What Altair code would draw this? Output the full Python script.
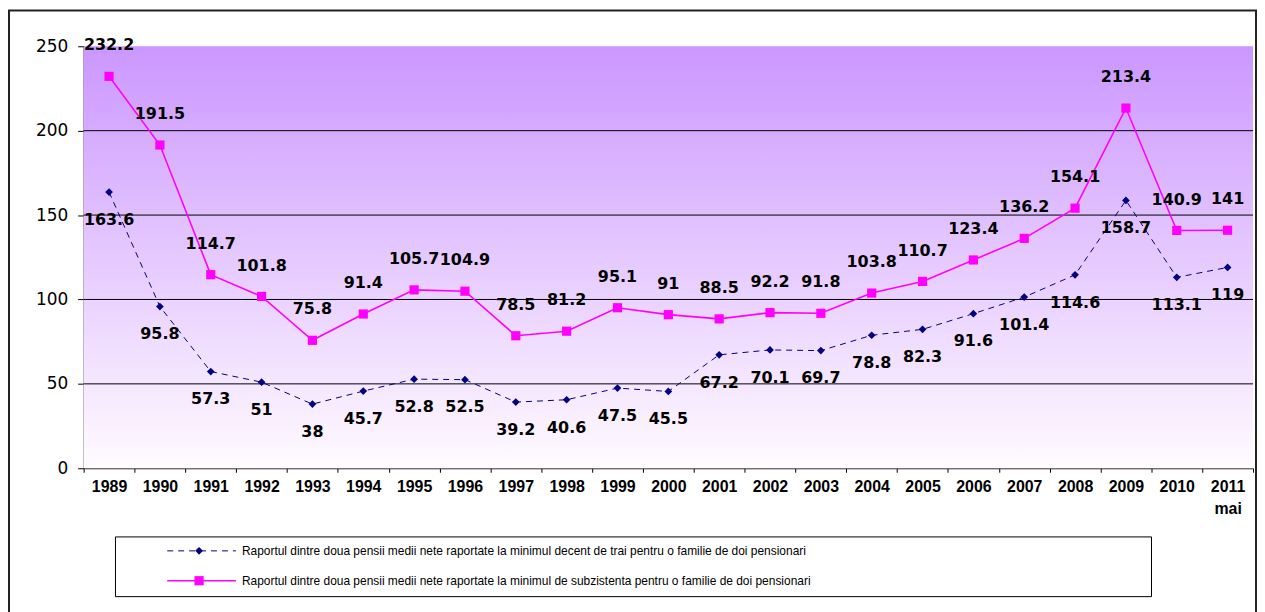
import altair as alt
import pandas as pd

years = ["1989", "1990", "1991", "1992", "1993", "1994", "1995", "1996", "1997", "1998",
         "1999", "2000", "2001", "2002", "2003", "2004", "2005", "2006", "2007", "2008",
         "2009", "2010", "2011\nmai"]
decent = [163.6, 95.8, 57.3, 51, 38, 45.7, 52.8, 52.5, 39.2, 40.6, 47.5, 45.5, 67.2,
          70.1, 69.7, 78.8, 82.3, 91.6, 101.4, 114.6, 158.7, 113.1, 119]
subsist = [232.2, 191.5, 114.7, 101.8, 75.8, 91.4, 105.7, 104.9, 78.5, 81.2, 95.1, 91,
           88.5, 92.2, 91.8, 103.8, 110.7, 123.4, 136.2, 154.1, 213.4, 140.9, 141]
series_names = [
    "Raportul dintre doua pensii medii nete raportate la minimul decent de trai pentru o familie de doi pensionari",
    "Raportul dintre doua pensii medii nete raportate la minimul de subzistenta pentru o familie de doi pensionari",
]
y_ticks = [0, 50, 100, 150, 200, 250]
grid_values = [50, 100, 150, 200]

NAVY = "#000080"
MAGENTA = "#FF00FF"
W, H = 1175, 424

df = pd.DataFrame({"year": years, "decent": decent, "subsist": subsist})
df["decent_lbl"] = [f"{v:g}" for v in decent]
df["subsist_lbl"] = [f"{v:g}" for v in subsist]
one = pd.DataFrame({"k": [0]})

x_enc = alt.X(
    "year:N", sort=years, title=None,
    scale=alt.Scale(type="band", paddingInner=0, paddingOuter=0),
    axis=alt.Axis(labelAngle=0, labelFont="Liberation Sans", labelFontWeight="bold",
                  labelFontSize=16, labelColor="black", labelPadding=6,
                  labelLineHeight=22, labelExpr="split(datum.label, '\\n')",
                  tickBand="extent", tickSize=4, tickColor="black",
                  domainColor="black", grid=False),
)
y_scale = alt.Scale(domain=[0, 250], nice=False)
y_axis = alt.Axis(values=y_ticks, labelFont="DejaVu Sans", labelFontSize=17,
                  labelColor="black", labelPadding=10, tickSize=6, tickColor="black",
                  domainColor="black", grid=False, title=None)

bg = alt.Chart(one).mark_rect(
    fill=alt.LinearGradient(
        gradient="linear",
        stops=[alt.GradientStop(color="#CB97FF", offset=0),
               alt.GradientStop(color="#FFFBFF", offset=1)],
        x1=0, x2=0, y1=0, y2=1,
    )
).encode(x=alt.value(0), x2=alt.value(W), y=alt.value(0), y2=alt.value(H))

grid = alt.Chart(pd.DataFrame({"g": grid_values})).mark_rule(
    color="black", strokeWidth=1
).encode(y=alt.Y("g:Q", scale=y_scale, axis=y_axis))

base = alt.Chart(df).encode(x=x_enc)

navy_line = base.mark_line(color=NAVY, strokeWidth=1, strokeDash=[6, 5]).encode(
    y=alt.Y("decent:Q", scale=y_scale, axis=y_axis))
navy_pts = base.mark_point(shape="diamond", filled=True, color=NAVY, size=60, opacity=1).encode(
    y=alt.Y("decent:Q", scale=y_scale, axis=y_axis))
mag_line = base.mark_line(color=MAGENTA, strokeWidth=1.6).encode(
    y=alt.Y("subsist:Q", scale=y_scale, axis=y_axis))
mag_pts = base.mark_point(shape="square", filled=True, color=MAGENTA, size=85, opacity=1).encode(
    y=alt.Y("subsist:Q", scale=y_scale, axis=y_axis))

navy_lbl = base.mark_text(font="DejaVu Sans", fontWeight="bold", fontSize=16,
                          color="black", dy=28).encode(
    y=alt.Y("decent:Q", scale=y_scale, axis=y_axis), text="decent_lbl:N")
mag_lbl = base.mark_text(font="DejaVu Sans", fontWeight="bold", fontSize=16,
                         color="black", dy=-31).encode(
    y=alt.Y("subsist:Q", scale=y_scale, axis=y_axis), text="subsist_lbl:N")

# legend
LX0, LX1, LY0, LY1 = 32, 1073, 493, 553
R1, R2 = 507, 537
leg_box = alt.Chart(one).mark_rect(fill="white", stroke="black", strokeWidth=1).encode(
    x=alt.value(LX0), x2=alt.value(LX1), y=alt.value(LY0), y2=alt.value(LY1))
leg_line1 = alt.Chart(one).mark_rule(color=NAVY, strokeWidth=1, strokeDash=[6, 5]).encode(
    x=alt.value(84), x2=alt.value(153), y=alt.value(R1))
leg_pt1 = alt.Chart(one).mark_point(shape="diamond", filled=True, color=NAVY, size=60, opacity=1).encode(
    x=alt.value(116), y=alt.value(R1))
leg_line2 = alt.Chart(one).mark_rule(color=MAGENTA, strokeWidth=1.6).encode(
    x=alt.value(84), x2=alt.value(153), y=alt.value(R2))
leg_pt2 = alt.Chart(one).mark_point(shape="square", filled=True, color=MAGENTA, size=85, opacity=1).encode(
    x=alt.value(116), y=alt.value(R2))
leg_txt1 = alt.Chart(one).mark_text(align="left", baseline="middle", font="Liberation Sans",
                                    fontSize=12, color="black").encode(
    x=alt.value(159), y=alt.value(R1), text=alt.value(series_names[0]))
leg_txt2 = alt.Chart(one).mark_text(align="left", baseline="middle", font="Liberation Sans",
                                    fontSize=12, color="black").encode(
    x=alt.value(159), y=alt.value(R2), text=alt.value(series_names[1]))

border = alt.Chart(one).mark_rect(fill="transparent", stroke="#222222", strokeWidth=2).encode(
    x=alt.value(-75), x2=alt.value(1178), y=alt.value(-36), y2=alt.value(574))

chart = alt.layer(
    bg, grid, navy_line, mag_line, navy_pts, mag_pts, navy_lbl, mag_lbl,
    leg_box, leg_line1, leg_pt1, leg_line2, leg_pt2, leg_txt1, leg_txt2, border,
).properties(width=W, height=H, padding=0, background="white").configure_view(strokeWidth=0)

chart.save("out.html", embed_options={"renderer": "svg", "actions": False})
